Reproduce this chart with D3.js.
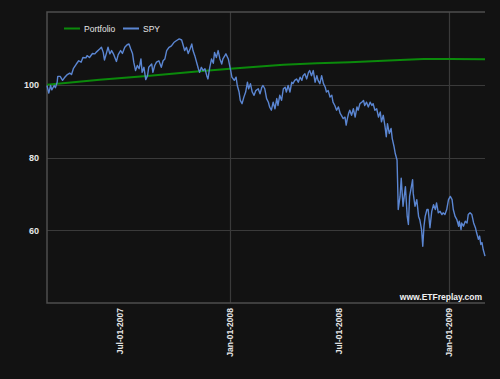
<!DOCTYPE html>
<html>
<head>
<meta charset="utf-8">
<script src="https://cdn.jsdelivr.net/npm/d3@7"></script>
<style>
  body { margin: 0; background: #121212; }
  text { font-family: "Liberation Sans", Arial, sans-serif; }
</style>
</head>
<body>
<svg id="chart" width="500" height="379"></svg>
<script>
// SPY, indexed to 100 at start
const spyDates = [
  "2007-03-01","2007-03-04","2007-03-07","2007-03-09","2007-03-13","2007-03-15","2007-03-18","2007-03-19","2007-03-23","2007-03-27","2007-03-30",
  "2007-04-04","2007-04-08","2007-04-11","2007-04-14","2007-04-19","2007-04-23","2007-04-27","2007-04-30",
  "2007-05-05","2007-05-07","2007-05-11","2007-05-16","2007-05-20","2007-05-22","2007-05-28","2007-05-31",
  "2007-06-03","2007-06-05","2007-06-08","2007-06-11","2007-06-14","2007-06-17","2007-06-20","2007-06-25","2007-06-28",
  "2007-07-02","2007-07-05","2007-07-09","2007-07-13","2007-07-16","2007-07-19","2007-07-22","2007-07-24","2007-07-27","2007-07-30",
  "2007-08-02","2007-08-05","2007-08-07","2007-08-10","2007-08-13","2007-08-16","2007-08-18","2007-08-23","2007-08-25","2007-08-28","2007-08-31",
  "2007-09-04","2007-09-08","2007-09-11","2007-09-14","2007-09-17","2007-09-21","2007-09-25","2007-09-29",
  "2007-10-03","2007-10-08","2007-10-12","2007-10-14","2007-10-17","2007-10-20","2007-10-23","2007-10-26","2007-10-29","2007-10-31",
  "2007-11-03","2007-11-06","2007-11-09","2007-11-11","2007-11-14","2007-11-17","2007-11-20","2007-11-23","2007-11-25","2007-11-28",
  "2007-12-01","2007-12-04","2007-12-06","2007-12-09","2007-12-12","2007-12-15","2007-12-18","2007-12-20","2007-12-25","2007-12-29",
  "2008-01-02","2008-01-04","2008-01-08","2008-01-11","2008-01-13","2008-01-16","2008-01-18","2008-01-21","2008-01-24","2008-01-27","2008-01-30",
  "2008-02-01","2008-02-04","2008-02-07","2008-02-10","2008-02-13","2008-02-17","2008-02-20","2008-02-23","2008-02-25","2008-02-28",
  "2008-03-02","2008-03-05","2008-03-07","2008-03-10","2008-03-13","2008-03-16","2008-03-19","2008-03-21","2008-03-24","2008-03-27","2008-03-30",
  "2008-04-02","2008-04-04","2008-04-07","2008-04-10","2008-04-13","2008-04-15","2008-04-18","2008-04-21","2008-04-24","2008-04-27","2008-04-30",
  "2008-05-02","2008-05-05","2008-05-08","2008-05-11","2008-05-13","2008-05-16","2008-05-19","2008-05-22","2008-05-25","2008-05-27","2008-05-30",
  "2008-06-02","2008-06-05","2008-06-08","2008-06-10","2008-06-13","2008-06-16","2008-06-19","2008-06-21","2008-06-24","2008-06-27","2008-06-30",
  "2008-07-03","2008-07-05","2008-07-08","2008-07-11","2008-07-13","2008-07-15","2008-07-17","2008-07-19","2008-07-22","2008-07-25","2008-07-28","2008-07-31",
  "2008-08-02","2008-08-05","2008-08-08","2008-08-11","2008-08-13","2008-08-16","2008-08-19","2008-08-22","2008-08-25","2008-08-27","2008-08-30",
  "2008-09-02","2008-09-05","2008-09-08","2008-09-10","2008-09-13","2008-09-16","2008-09-18","2008-09-20","2008-09-23","2008-09-26","2008-09-28",
  "2008-10-01","2008-10-03","2008-10-06","2008-10-07","2008-10-08","2008-10-11","2008-10-13","2008-10-16","2008-10-18","2008-10-20","2008-10-23","2008-10-25","2008-10-27","2008-10-29",
  "2008-11-01","2008-11-02","2008-11-05","2008-11-08","2008-11-11","2008-11-13","2008-11-16","2008-11-18","2008-11-20","2008-11-22","2008-11-25","2008-11-27","2008-11-30",
  "2008-12-03","2008-12-06","2008-12-09","2008-12-11","2008-12-14","2008-12-17","2008-12-20","2008-12-22","2008-12-25","2008-12-28","2008-12-31",
  "2009-01-03","2009-01-06","2009-01-08","2009-01-11","2009-01-14","2009-01-17","2009-01-18","2009-01-21","2009-01-22","2009-01-25","2009-01-28","2009-01-31",
  "2009-02-02","2009-02-05","2009-02-08","2009-02-11","2009-02-14","2009-02-16","2009-02-19","2009-02-21","2009-02-23","2009-02-25","2009-02-27","2009-03-02"
];
const spyValues = [
  99.8,97.7,99.8,98.6,99.8,99.2,100.7,102.3,102.3,101.2,101.9,
  102.8,103.2,102.8,104.4,105.7,106.6,106.2,107.5,
  107.4,108.0,107.5,108.6,108.5,108.9,109.8,110.3,
  108.9,106.8,108.5,110.3,108.5,109.4,108.5,106.4,108.3,
  109.4,108.6,110.3,111.0,111.2,109.8,108.5,106.2,103.9,105.3,
  104.4,107.1,103.4,104.8,101.4,102.5,104.8,105.7,103.4,105.3,106.2,
  106.6,104.8,106.6,107.1,109.4,110.3,110.7,111.6,
  112.1,112.6,112.3,111.2,109.4,110.3,108.6,109.8,111.2,109.4,
  108.0,106.2,104.4,103.4,104.8,103.9,104.4,102.5,101.6,104.8,
  107.1,105.9,108.9,107.5,109.4,107.1,105.7,107.1,108.5,107.1,
  103.9,102.1,101.2,102.1,99.8,98.0,95.7,94.8,96.6,98.0,100.7,
  98.9,100.3,98.0,97.1,98.4,98.9,97.5,99.3,99.8,98.9,
  96.2,95.2,93.9,93.0,95.2,93.4,96.2,94.3,97.1,95.7,98.9,
  99.3,98.0,99.8,98.0,100.7,100.3,101.2,101.6,100.7,102.1,101.2,
  102.5,103.0,101.6,103.4,103.9,102.5,103.9,100.7,102.5,101.2,100.3,
  102.5,100.3,99.3,98.0,98.4,96.6,97.1,95.2,94.3,93.0,93.9,
  92.1,91.6,90.7,91.1,88.9,90.7,92.1,93.0,91.6,93.4,91.1,93.9,
  93.0,94.8,95.2,95.7,94.3,95.2,93.9,95.2,94.3,94.8,93.0,
  93.4,91.1,92.5,89.8,91.6,88.4,85.7,89.3,86.6,88.0,85.2,
  83.0,81.1,79.3,72.9,65.7,69.3,74.3,66.6,69.3,72.0,63.8,61.6,69.3,71.1,
  73.9,70.2,66.6,68.4,63.8,62.9,60.2,55.6,61.1,63.8,65.7,65.7,60.7,
  65.2,67.0,65.7,67.5,64.8,65.2,64.3,64.8,64.3,65.7,68.4,
  69.3,68.4,65.7,63.8,62.9,61.1,62.5,60.2,62.0,61.1,62.5,62.0,
  64.3,64.8,64.3,62.0,60.7,59.3,57.5,58.4,56.1,56.6,54.7,52.9
];

// Portfolio, indexed to 100 at start
const portfolioDates = [
  "2007-03-01","2007-05-28","2007-08-20","2007-11-11","2008-01-01","2008-02-03","2008-03-30",
  "2008-05-25","2008-07-19","2008-09-13","2008-10-11","2008-11-19","2009-01-03","2009-03-02"
];
const portfolioValues = [
  100.0,101.4,102.5,103.7,104.4,104.8,105.5,
  105.9,106.2,106.6,106.8,107.1,107.1,107.0
];

const yTicks = [60, 80, 100];
const xTickDates = ["2007-07-01", "2008-01-01", "2008-07-01", "2009-01-01"];
const xGridDates = ["2008-01-01", "2009-01-01"];
const seriesNames = ["Portfolio", "SPY"];
const seriesColors = ["#0b8a0b", "#5b86d2"];

const width = 500, height = 379;
const margin = {top: 12, right: 15, bottom: 76, left: 47};

const parse = d3.timeParse("%Y-%m-%d");
const fmt = d3.timeFormat("%b-%d-%Y");

const spy = spyDates.map((d, i) => ({date: parse(d), value: spyValues[i]}));
const portfolio = portfolioDates.map((d, i) => ({date: parse(d), value: portfolioValues[i]}));

const x = d3.scaleTime()
  .domain([parse("2007-03-01"), parse("2009-03-02")])
  .range([margin.left, width - margin.right]);
const y = d3.scaleLinear()
  .domain([40, 120])
  .range([height - margin.bottom, margin.top]);

const svg = d3.select("#chart");
svg.append("rect").attr("width", width).attr("height", height).attr("fill", "#121212");

// grid
const grid = svg.append("g");
grid.selectAll(".hgrid").data(yTicks).join("line")
  .attr("x1", margin.left).attr("x2", width - margin.right)
  .attr("y1", d => Math.round(y(d)) + 0.5).attr("y2", d => Math.round(y(d)) + 0.5)
  .attr("stroke", "#3a3a3a").attr("stroke-width", 1.2);
grid.selectAll(".vgrid").data(xGridDates.map(parse)).join("line")
  .attr("x1", d => Math.round(x(d)) + 0.5).attr("x2", d => Math.round(x(d)) + 0.5)
  .attr("y1", margin.top).attr("y2", height - margin.bottom)
  .attr("stroke", "#3a3a3a").attr("stroke-width", 1.2);

// frame (top, left, bottom)
const frame = svg.append("g").attr("stroke", "#4e4e4e").attr("stroke-width", 1.5).attr("fill", "none");
frame.append("path")
  .attr("d", `M${width - margin.right},${y(120)}H${margin.left}V${y(40)}H${width - margin.right}`);

// axes
const yAxis = svg.append("g")
  .attr("transform", `translate(${margin.left},0)`)
  .call(d3.axisLeft(y).tickValues(yTicks).tickSize(0).tickPadding(8));
yAxis.select(".domain").remove();
yAxis.selectAll("text")
  .attr("fill", "#e6e6e6").attr("font-size", "9px").attr("font-weight", "bold");

const xAxis = svg.append("g")
  .attr("transform", `translate(0,${height - margin.bottom})`)
  .call(d3.axisBottom(x).tickValues(xTickDates.map(parse)).tickFormat(fmt).tickSize(0));
xAxis.select(".domain").remove();
xAxis.selectAll("text")
  .attr("fill", "#e6e6e6").attr("font-size", "8.5px").attr("font-weight", "bold")
  .attr("text-anchor", "end")
  .attr("transform", "rotate(-90)")
  .attr("x", -5).attr("y", 0).attr("dy", "0.32em");

// lines
const line = d3.line().x(d => x(d.date)).y(d => y(d.value));
svg.append("path").datum(portfolio)
  .attr("d", line).attr("fill", "none")
  .attr("stroke", seriesColors[0]).attr("stroke-width", 2);
svg.append("path").datum(spy)
  .attr("d", line).attr("fill", "none")
  .attr("stroke", seriesColors[1]).attr("stroke-width", 1.4)
  .attr("stroke-linejoin", "round");

// legend
const legendX = [64, 123];
const legend = svg.append("g");
seriesNames.forEach((name, i) => {
  legend.append("line")
    .attr("x1", legendX[i]).attr("x2", legendX[i] + 16)
    .attr("y1", 28.5).attr("y2", 28.5)
    .attr("stroke", seriesColors[i]).attr("stroke-width", 2);
  legend.append("text")
    .attr("x", legendX[i] + 20).attr("y", 31.5)
    .attr("fill", "#e6e6e6").attr("font-size", "8.5px")
    .text(name);
});

// watermark
svg.append("text")
  .attr("x", 482).attr("y", 299.5)
  .attr("text-anchor", "end")
  .attr("fill", "#f0f0f0").attr("font-size", "8.5px").attr("font-weight", "bold")
  .text("www.ETFreplay.com");
</script>
</body>
</html>
